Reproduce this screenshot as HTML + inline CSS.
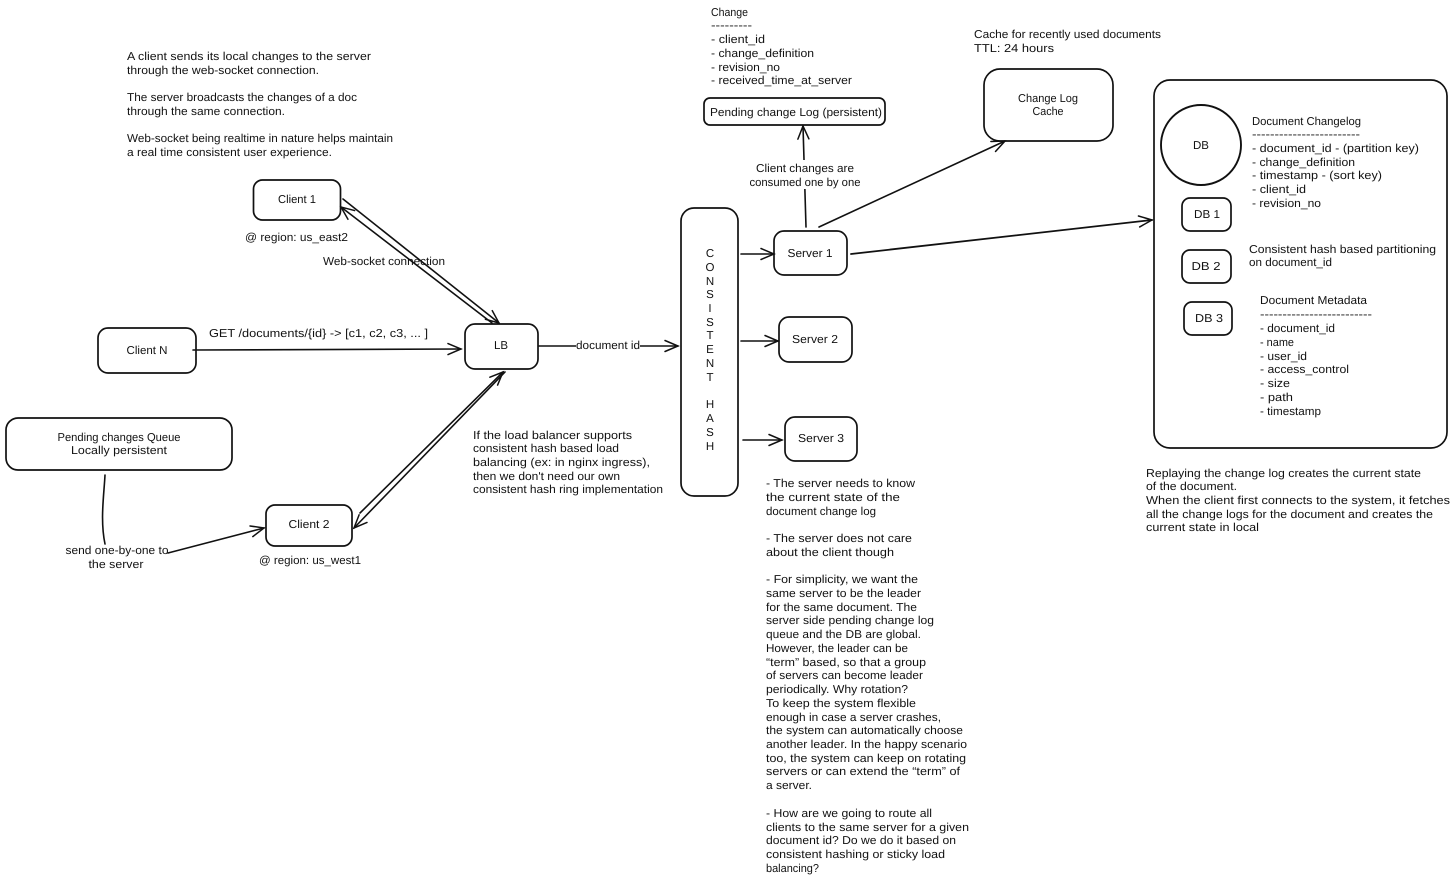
<!DOCTYPE html>
<html><head><meta charset="utf-8"><title>Diagram</title>
<style>
html,body{margin:0;padding:0;background:#fff;width:1456px;height:880px;overflow:hidden}
svg{display:block}
text{font-family:"Liberation Sans",sans-serif;font-size:11.5px;fill:#111;text-rendering:geometricPrecision}
.m{text-anchor:middle}
rect,circle{fill:none;stroke:#111;stroke-width:1.7}
.l{fill:none;stroke:#111;stroke-width:1.6;stroke-linecap:round}
.a{marker-end:url(#h)}
</style></head><body>
<svg width="1456" height="880" viewBox="0 0 1456 880" xmlns="http://www.w3.org/2000/svg">
<defs><marker id="h" markerUnits="userSpaceOnUse" markerWidth="18" markerHeight="16" refX="14" refY="8" orient="auto"><path d="M1 2.5L14 8L1 13.5" fill="none" stroke="#111" stroke-width="1.5" stroke-linecap="round"/></marker></defs>
<rect width="1456" height="880" style="fill:#fff;stroke:none"/>

<!-- boxes -->
<rect x="253.5" y="180" width="87" height="40" rx="9"/>
<rect x="98" y="328" width="98" height="45" rx="10"/>
<rect x="465" y="324" width="73" height="45" rx="10"/>
<rect x="6" y="418" width="226" height="52" rx="12"/>
<rect x="266" y="505" width="86" height="41" rx="9"/>
<rect x="681" y="208" width="57" height="288" rx="13"/>
<rect x="774" y="231" width="73" height="44" rx="10"/>
<rect x="779" y="317" width="73" height="45" rx="10"/>
<rect x="785" y="417" width="72" height="44" rx="10"/>
<rect x="704" y="98" width="181" height="27" rx="6"/>
<rect x="984" y="69" width="129" height="72" rx="16"/>
<rect x="1154" y="80" width="293" height="368" rx="16" style="stroke-width:1.7"/>
<circle cx="1201" cy="145" r="40" style="stroke-width:1.9"/>
<rect x="1182" y="198" width="49" height="33" rx="8"/>
<rect x="1182" y="250" width="49" height="33" rx="8"/>
<rect x="1184" y="302" width="48" height="33" rx="8"/>

<!-- connectors -->
<path class="l a" d="M343 199L499 323"/>
<path class="l a" d="M492 323L341 207"/>
<path class="l a" d="M193 350L461 349"/>
<path class="l a" d="M360 513L503 372"/>
<path class="l a" d="M505 372L354 528"/>
<path class="l" d="M105 475C104 495 100 520 105 544"/>
<path class="l a" d="M168 553L264 528"/>
<path class="l a" d="M539 346L678 346"/>
<path class="l a" d="M741 254L774 254"/>
<path class="l a" d="M741 341L778 341"/>
<path class="l a" d="M743 440L782 440"/>
<path class="l a" d="M806 227L803 126"/>
<path class="l a" d="M819 227L1005 141"/>
<path class="l a" style="stroke-width:1.8" d="M851 254L1152 220"/>
<rect x="576" y="338" width="64" height="15" style="fill:#fff;stroke:none"/>
<rect x="749" y="160" width="113" height="29" style="fill:#fff;stroke:none"/>

<g transform="translate(0,4)">
<!-- top-left note -->
<text x="127" y="56" textLength="244" lengthAdjust="spacingAndGlyphs">A client sends its local changes to the server</text>
<text x="127" y="70" textLength="192" lengthAdjust="spacingAndGlyphs">through the web-socket connection.</text>
<text x="127" y="97" textLength="230" lengthAdjust="spacingAndGlyphs">The server broadcasts the changes of a doc</text>
<text x="127" y="111" textLength="158" lengthAdjust="spacingAndGlyphs">through the same connection.</text>
<text x="127" y="138" textLength="266" lengthAdjust="spacingAndGlyphs">Web-socket being realtime in nature helps maintain</text>
<text x="127" y="152" textLength="205" lengthAdjust="spacingAndGlyphs">a real time consistent user experience.</text>

<!-- left nodes -->
<text class="m" x="297" y="199" textLength="38" lengthAdjust="spacingAndGlyphs">Client 1</text>
<text x="245" y="237" textLength="103" lengthAdjust="spacingAndGlyphs">@ region: us_east2</text>
<text x="323" y="261" textLength="122" lengthAdjust="spacingAndGlyphs">Web-socket connection</text>
<text x="209" y="333" textLength="219" lengthAdjust="spacingAndGlyphs">GET /documents/{id} -&gt; [c1, c2, c3, ... ]</text>
<text class="m" x="147" y="350" textLength="41" lengthAdjust="spacingAndGlyphs">Client N</text>
<text class="m" x="501" y="345">LB</text>
<text class="m" x="119" y="437" textLength="123" lengthAdjust="spacingAndGlyphs">Pending changes Queue</text>
<text class="m" x="119" y="450" textLength="96" lengthAdjust="spacingAndGlyphs">Locally persistent</text>
<text class="m" x="309" y="524" textLength="41" lengthAdjust="spacingAndGlyphs">Client 2</text>
<text x="259" y="560" textLength="102" lengthAdjust="spacingAndGlyphs">@ region: us_west1</text>
<text class="m" x="117" y="550" textLength="103" lengthAdjust="spacingAndGlyphs">send one-by-one to</text>
<text class="m" x="116" y="564" textLength="55" lengthAdjust="spacingAndGlyphs">the server</text>
<text class="m" x="608" y="345" textLength="64" lengthAdjust="spacingAndGlyphs">document id</text>

<!-- LB note -->
<text x="473" y="435" textLength="159" lengthAdjust="spacingAndGlyphs">If the load balancer supports</text>
<text x="473" y="448" textLength="146" lengthAdjust="spacingAndGlyphs">consistent hash based load</text>
<text x="473" y="462" textLength="177" lengthAdjust="spacingAndGlyphs">balancing (ex: in nginx ingress),</text>
<text x="473" y="476" textLength="147" lengthAdjust="spacingAndGlyphs">then we don't need our own</text>
<text x="473" y="489" textLength="190" lengthAdjust="spacingAndGlyphs">consistent hash ring implementation</text>

<!-- hash -->
<text class="m" x="710" y="253">C</text>
<text class="m" x="710" y="267">O</text>
<text class="m" x="710" y="281">N</text>
<text class="m" x="710" y="294">S</text>
<text class="m" x="710" y="308">I</text>
<text class="m" x="710" y="322">S</text>
<text class="m" x="710" y="335">T</text>
<text class="m" x="710" y="349">E</text>
<text class="m" x="710" y="363">N</text>
<text class="m" x="710" y="377">T</text>
<text class="m" x="710" y="404">H</text>
<text class="m" x="710" y="418">A</text>
<text class="m" x="710" y="432">S</text>
<text class="m" x="710" y="446">H</text>

<!-- servers -->
<text class="m" x="810" y="253" textLength="45" lengthAdjust="spacingAndGlyphs">Server 1</text>
<text class="m" x="815" y="339" textLength="46" lengthAdjust="spacingAndGlyphs">Server 2</text>
<text class="m" x="821" y="438" textLength="46" lengthAdjust="spacingAndGlyphs">Server 3</text>

<!-- change -->
<text x="711" y="12" textLength="37" lengthAdjust="spacingAndGlyphs">Change</text>
<text x="711" y="25" textLength="41" lengthAdjust="spacingAndGlyphs">---------</text>
<text x="711" y="39" textLength="54" lengthAdjust="spacingAndGlyphs">- client_id</text>
<text x="711" y="53" textLength="103" lengthAdjust="spacingAndGlyphs">- change_definition</text>
<text x="711" y="67" textLength="69" lengthAdjust="spacingAndGlyphs">- revision_no</text>
<text x="711" y="80" textLength="141" lengthAdjust="spacingAndGlyphs">- received_time_at_server</text>
<text x="710" y="112" textLength="172" lengthAdjust="spacingAndGlyphs">Pending change Log (persistent)</text>
<text class="m" x="805" y="168" textLength="98" lengthAdjust="spacingAndGlyphs">Client changes are</text>
<text class="m" x="805" y="182" textLength="111" lengthAdjust="spacingAndGlyphs">consumed one by one</text>

<!-- cache -->
<text x="974" y="34" textLength="187" lengthAdjust="spacingAndGlyphs">Cache for recently used documents</text>
<text x="974" y="48" textLength="80" lengthAdjust="spacingAndGlyphs">TTL: 24 hours</text>
<text class="m" x="1048" y="98" textLength="60" lengthAdjust="spacingAndGlyphs">Change Log</text>
<text class="m" x="1048" y="111" textLength="31" lengthAdjust="spacingAndGlyphs">Cache</text>

<!-- DB panel -->
<text class="m" x="1201" y="145">DB</text>
<text class="m" x="1207" y="214" textLength="26" lengthAdjust="spacingAndGlyphs">DB 1</text>
<text class="m" x="1206" y="266" textLength="29" lengthAdjust="spacingAndGlyphs">DB 2</text>
<text class="m" x="1209" y="318" textLength="28" lengthAdjust="spacingAndGlyphs">DB 3</text>
<text x="1252" y="121" textLength="109" lengthAdjust="spacingAndGlyphs">Document Changelog</text>
<text x="1252" y="134" textLength="108" lengthAdjust="spacingAndGlyphs">------------------------</text>
<text x="1252" y="148" textLength="167" lengthAdjust="spacingAndGlyphs">- document_id - (partition key)</text>
<text x="1252" y="162" textLength="103" lengthAdjust="spacingAndGlyphs">- change_definition</text>
<text x="1252" y="175" textLength="130" lengthAdjust="spacingAndGlyphs">- timestamp - (sort key)</text>
<text x="1252" y="189" textLength="54" lengthAdjust="spacingAndGlyphs">- client_id</text>
<text x="1252" y="203" textLength="69" lengthAdjust="spacingAndGlyphs">- revision_no</text>
<text x="1249" y="249" textLength="187" lengthAdjust="spacingAndGlyphs">Consistent hash based partitioning</text>
<text x="1249" y="262" textLength="83" lengthAdjust="spacingAndGlyphs">on document_id</text>
<text x="1260" y="300" textLength="107" lengthAdjust="spacingAndGlyphs">Document Metadata</text>
<text x="1260" y="314" textLength="112" lengthAdjust="spacingAndGlyphs">-------------------------</text>
<text x="1260" y="328" textLength="75" lengthAdjust="spacingAndGlyphs">- document_id</text>
<text x="1260" y="342" textLength="34" lengthAdjust="spacingAndGlyphs">- name</text>
<text x="1260" y="356" textLength="47" lengthAdjust="spacingAndGlyphs">- user_id</text>
<text x="1260" y="369" textLength="89" lengthAdjust="spacingAndGlyphs">- access_control</text>
<text x="1260" y="383" textLength="30" lengthAdjust="spacingAndGlyphs">- size</text>
<text x="1260" y="397" textLength="33" lengthAdjust="spacingAndGlyphs">- path</text>
<text x="1260" y="411" textLength="61" lengthAdjust="spacingAndGlyphs">- timestamp</text>

<!-- replay -->
<text x="1146" y="473" textLength="275" lengthAdjust="spacingAndGlyphs">Replaying the change log creates the current state</text>
<text x="1146" y="486" textLength="91" lengthAdjust="spacingAndGlyphs">of the document.</text>
<text x="1146" y="500" textLength="304" lengthAdjust="spacingAndGlyphs">When the client first connects to the system, it fetches</text>
<text x="1146" y="514" textLength="287" lengthAdjust="spacingAndGlyphs">all the change logs for the document and creates the</text>
<text x="1146" y="527" textLength="113" lengthAdjust="spacingAndGlyphs">current state in local</text>

<!-- server note -->
<text x="766" y="483" textLength="149" lengthAdjust="spacingAndGlyphs">- The server needs to know</text>
<text x="766" y="497" textLength="134" lengthAdjust="spacingAndGlyphs">the current state of the</text>
<text x="766" y="511" textLength="110" lengthAdjust="spacingAndGlyphs">document change log</text>
<text x="766" y="538" textLength="146" lengthAdjust="spacingAndGlyphs">- The server does not care</text>
<text x="766" y="552" textLength="128" lengthAdjust="spacingAndGlyphs">about the client though</text>
<text x="766" y="579" textLength="152" lengthAdjust="spacingAndGlyphs">- For simplicity, we want the</text>
<text x="766" y="593" textLength="155" lengthAdjust="spacingAndGlyphs">same server to be the leader</text>
<text x="766" y="607" textLength="151" lengthAdjust="spacingAndGlyphs">for the same document. The</text>
<text x="766" y="620" textLength="168" lengthAdjust="spacingAndGlyphs">server side pending change log</text>
<text x="766" y="634" textLength="155" lengthAdjust="spacingAndGlyphs">queue and the DB are global.</text>
<text x="766" y="648" textLength="142" lengthAdjust="spacingAndGlyphs">However, the leader can be</text>
<text x="766" y="662" textLength="160" lengthAdjust="spacingAndGlyphs">“term” based, so that a group</text>
<text x="766" y="675" textLength="157" lengthAdjust="spacingAndGlyphs">of servers can become leader</text>
<text x="766" y="689" textLength="142" lengthAdjust="spacingAndGlyphs">periodically. Why rotation?</text>
<text x="766" y="703" textLength="150" lengthAdjust="spacingAndGlyphs">To keep the system flexible</text>
<text x="766" y="717" textLength="175" lengthAdjust="spacingAndGlyphs">enough in case a server crashes,</text>
<text x="766" y="730" textLength="197" lengthAdjust="spacingAndGlyphs">the system can automatically choose</text>
<text x="766" y="744" textLength="201" lengthAdjust="spacingAndGlyphs">another leader. In the happy scenario</text>
<text x="766" y="758" textLength="200" lengthAdjust="spacingAndGlyphs">too, the system can keep on rotating</text>
<text x="766" y="771" textLength="194" lengthAdjust="spacingAndGlyphs">servers or can extend the “term” of</text>
<text x="766" y="785" textLength="46" lengthAdjust="spacingAndGlyphs">a server.</text>
<text x="766" y="813" textLength="166" lengthAdjust="spacingAndGlyphs">- How are we going to route all</text>
<text x="766" y="827" textLength="203" lengthAdjust="spacingAndGlyphs">clients to the same server for a given</text>
<text x="766" y="840" textLength="190" lengthAdjust="spacingAndGlyphs">document id? Do we do it based on</text>
<text x="766" y="854" textLength="179" lengthAdjust="spacingAndGlyphs">consistent hashing or sticky load</text>
<text x="766" y="868" textLength="53" lengthAdjust="spacingAndGlyphs">balancing?</text>
</g>
</svg>
</body></html>
